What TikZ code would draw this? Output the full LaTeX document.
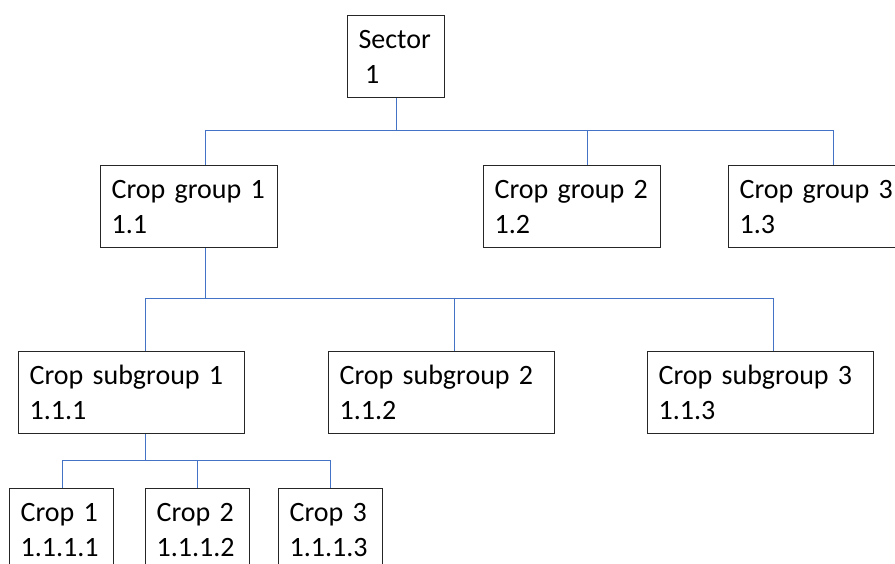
\documentclass[tikz,border=0pt]{standalone}
\usepackage{fontspec}
\setmainfont{Carlito}
\usepackage{tikz}

\definecolor{linkblue}{RGB}{68,114,196}
\tikzset{
	box/.style={draw=black!85,line width=0.6pt,rectangle,anchor=north west,align=left,
		inner xsep=5.5pt,inner ysep=0pt,minimum height=41pt,text width=#1,
		font=\fontsize{14pt}{17.5pt}\selectfont},
	link/.style={draw=linkblue,line width=0.5pt}
}

\begin{document}
\begin{tikzpicture}[x=0.5pt,y=-0.5pt]
		\clip (0,0) rectangle (895,563);
%		\draw[help lines] (0,0) grid (895,563);
		\path (347,15) coordinate (sector_tl);

		\path (100,165) coordinate (cg1_tl);
		\path (483,165) coordinate (cg2_tl);
		\path (728,165) coordinate (cg3_tl);
		\path (205,130) coordinate (bus1_l);
		\path (587,130) coordinate (bus1_m);
		\path (833,130) coordinate (bus1_r);

		\path (18,351) coordinate (sg1_tl);
		\path (328,351) coordinate (sg2_tl);
		\path (647,351) coordinate (sg3_tl);
		\path (145,298) coordinate (bus2_l);
		\path (205,298) coordinate (bus2_c);
		\path (454,298) coordinate (bus2_m);
		\path (773,298) coordinate (bus2_r);

		\path (9,488) coordinate (c1_tl);
		\path (145,488) coordinate (c2_tl);
		\path (278,488) coordinate (c3_tl);
		\path (62,460) coordinate (bus3_l);
		\path (145,460) coordinate (bus3_c);
		\path (197,460) coordinate (bus3_m);
		\path (330,460) coordinate (bus3_r);

		\node[box=37.5pt] (sector) at (sector_tl) {Sector\\\hspace*{0.23em}1};

		\node[box=77.5pt] (cg1) at (cg1_tl) {Crop~group~1\\1.1};
		\node[box=77.5pt] (cg2) at (cg2_tl) {Crop~group~2\\1.2};
		\node[box=77.5pt] (cg3) at (cg3_tl) {Crop~group~3\\1.3};

		\node[box=102pt] (sg1) at (sg1_tl) {Crop~subgroup~1\\1.1.1};
		\node[box=102pt] (sg2) at (sg2_tl) {Crop~subgroup~2\\1.1.2};
		\node[box=102pt] (sg3) at (sg3_tl) {Crop~subgroup~3\\1.1.3};

		\node[box=41pt] (c1) at (c1_tl) {Crop~1\\1.1.1.1};
		\node[box=41pt] (c2) at (c2_tl) {Crop~2\\1.1.1.2};
		\node[box=41pt] (c3) at (c3_tl) {Crop~3\\1.1.1.3};

		\draw[link] (sector.south) -- (sector.south |- bus1_l);
		\draw[link] (bus1_l) -- (bus1_r);
		\draw[link] (bus1_l) -- (bus1_l |- cg1.north);
		\draw[link] (bus1_m) -- (bus1_m |- cg2.north);
		\draw[link] (bus1_r) -- (bus1_r |- cg3.north);

		\draw[link] (bus2_c |- cg1.south) -- (bus2_c);
		\draw[link] (bus2_l) -- (bus2_r);
		\draw[link] (bus2_l) -- (bus2_l |- sg1.north);
		\draw[link] (bus2_m) -- (bus2_m |- sg2.north);
		\draw[link] (bus2_r) -- (bus2_r |- sg3.north);

		\draw[link] (bus3_c |- sg1.south) -- (bus3_c);
		\draw[link] (bus3_l) -- (bus3_r);
		\draw[link] (bus3_l) -- (bus3_l |- c1.north);
		\draw[link] (bus3_m) -- (bus3_m |- c2.north);
		\draw[link] (bus3_r) -- (bus3_r |- c3.north);

	\end{tikzpicture}
\end{document}
